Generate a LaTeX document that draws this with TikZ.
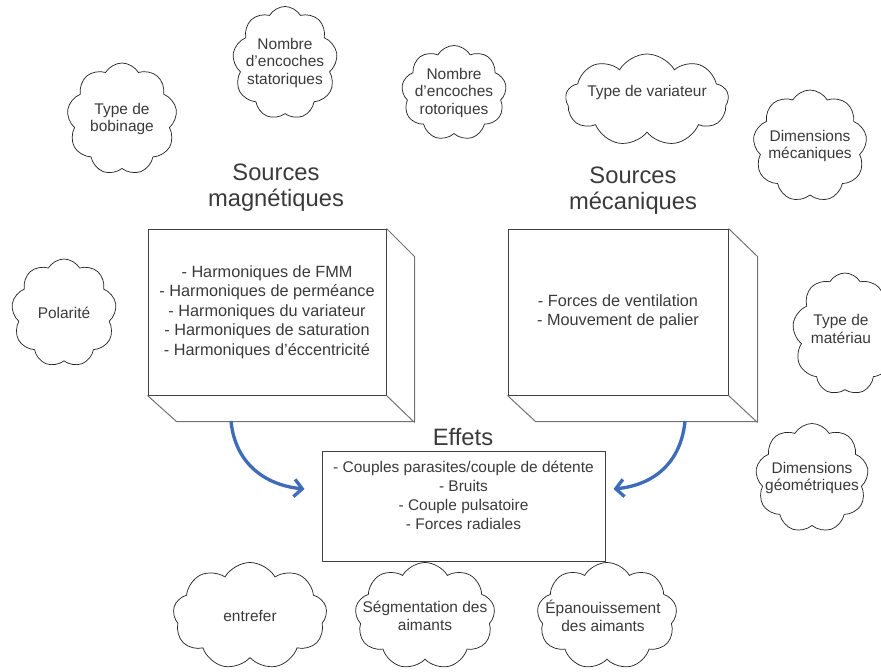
\documentclass[tikz,border=0pt]{standalone}
\usepackage{fontspec}
\setmainfont{Liberation Sans}
\usetikzlibrary{shapes.symbols,arrows.meta,positioning}
\definecolor{txtgray}{RGB}{58,58,58}
\definecolor{flowblue}{RGB}{63,108,185}

\begin{document}
\begin{tikzpicture}[x=0.75pt,y=-0.75pt,
    every node/.style={text=txtgray,font=\fontsize{11.6}{13.4}\selectfont},
    cloudy/.style 2 args={cloud,draw=black!85,line width=0.55pt,cloud puffs=9,
      cloud puff arc=120,cloud ignores aspect,inner sep=0pt,
      minimum width=#1*0.75pt,minimum height=#2*0.75pt},
    ctext/.style={align=center},
    face/.style={draw=black!75,line width=0.75pt,minimum height=124.5pt,
      align=center,inner sep=0pt,font=\fontsize{12.2}{14.6}\selectfont},
    edgeline/.style={draw=black!55,line width=0.75pt},
    title/.style={align=center,font=\fontsize{17.8}{19.5}\selectfont},
    flow/.style={-{Straight Barb[length=6pt,width=13pt]},draw=flowblue,line width=2.5pt}]
  \clip (0,0) rectangle (881,671);

  % clouds
  \node[cloudy={110}{112},label={[ctext]center:Type de\\bobinage}] (bob) at (122,119) {};
  \node[cloudy={105}{113},label={[ctext]center:Nombre\\d'encoches\\statoriques}] (stat) at (285,63) {};
  \node[cloudy={105}{95},label={[ctext]center:Nombre\\d'encoches\\rotoriques}] (rot) at (454,93) {};
  \node[cloudy={163}{92},label={[ctext,yshift=6pt]center:Type de variateur}] (var) at (647,100) {};
  \node[cloudy={114}{112},label={[ctext]center:Dimensions\\mécaniques}] (dmec) at (810,146) {};
  \node[cloudy={105}{108},label={[ctext]center:Polarité}] (pol) at (64,313) {};
  \node[cloudy={105}{122},label={[ctext,yshift=4pt,xshift=-3pt]center:Type de\\matériau}] (mat) at (845,334) {};
  \node[cloudy={113}{109},label={[ctext]center:Dimensions\\géométriques}] (geo) at (812,478) {};
  \node[cloudy={154}{107},label={[ctext]center:entrefer}] (entre) at (250,616) {};
  \node[cloudy={140}{107},label={[ctext]center:Ségmentation des\\aimants}] (seg) at (425,616) {};
  \node[cloudy={140}{107},label={[ctext,xshift=-3pt]center:Épanouissement\\des aimants}] (epa) at (607,616) {};

  % sources
  \node[title] (magtitle) at (276,188) {Sources\\magnétiques};
  \node[face,minimum width=178.5pt] (mag) at (267,312) {- Harmoniques de FMM\\- Harmoniques de perméance\\- Harmoniques du variateur\\- Harmoniques de saturation\\- Harmoniques d'éccentricité};
  \draw[edgeline] (mag.north east) -- ++(28,28) -- ++(0,165) -- ++(-238,0) -- (mag.south west);
  \draw[edgeline] (mag.south east) -- ++(28,27);

  \node[title] (mectitle) at (633,191) {Sources\\mécaniques};
  \node[face,minimum width=165pt] (mec) at (618,312) {- Forces de ventilation\\- Mouvement de palier};
  \draw[edgeline] (mec.north east) -- ++(29,28) -- ++(0,165) -- ++(-222,0) -- (mec.south west);
  \draw[edgeline] (mec.south east) -- ++(29,27);

  % effets
  \node[title] (efftitle) at (463,437) {Effets};
  \node[draw=black!75,line width=0.75pt,minimum width=212.25pt,minimum height=82.5pt] (eff) at (463.5,506) {};
  \node[align=center,font=\fontsize{11.6}{14.3}\selectfont,below=4.5pt of eff.north] (efftxt)
    {- Couples parasites/couple de détente\\- Bruits\\- Couple pulsatoire\\- Forces radiales};

  \coordinate (magfoot) at (231,421);
  \coordinate (mecfoot) at (685,421);
  \draw[flow] (magfoot) .. controls +(4,42) and +(-40,-4) .. ([xshift=-12.75pt,yshift=12.75pt]eff.west);
  \draw[flow] (mecfoot) .. controls +(-4,42) and +(40,-4) .. ([xshift=6pt,yshift=12.75pt]eff.east);
\end{tikzpicture}
\end{document}
